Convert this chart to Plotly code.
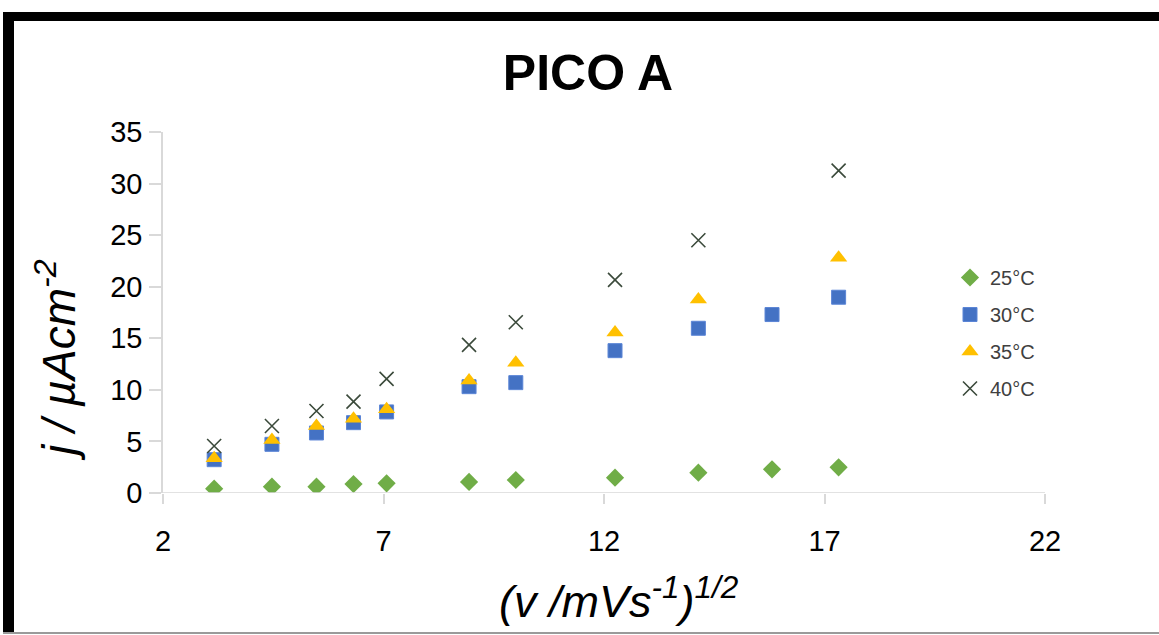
import plotly.graph_objects as go

# ---- data ----
x_all = [3.16, 4.47, 5.48, 6.32, 7.07, 8.94, 10.0, 12.25, 14.14, 15.81, 17.32]
x_no250 = [3.16, 4.47, 5.48, 6.32, 7.07, 8.94, 10.0, 12.25, 14.14, 17.32]

y25 = [0.42, 0.61, 0.61, 0.87, 0.94, 1.07, 1.26, 1.49, 1.97, 2.30, 2.49]
y30 = [3.23, 4.72, 5.82, 6.82, 7.86, 10.31, 10.70, 13.80, 15.97, 17.30, 18.98]
y35 = [3.36, 5.14, 6.50, 7.21, 8.12, 10.90, 12.64, 15.55, 18.75, 22.82]
y40 = [4.56, 6.50, 7.95, 8.86, 11.06, 14.36, 16.56, 20.66, 24.51, 31.26]

series_names = ["25°C", "30°C", "35°C", "40°C"]
x_ticks = [2, 7, 12, 17, 22]
y_ticks = [0, 5, 10, 15, 20, 25, 30, 35]

W, H = 1159, 635
L, R, T, B = 163, 1045, 132, 493  # plot area in px


def px_x(px):
    return (px - L) / (R - L)


def px_y(py):
    return (B - py) / (B - T)


fig = go.Figure()
fig.add_trace(go.Scatter(x=x_all, y=y25, mode="markers", name=series_names[0], legendgroup="a",
                         marker=dict(symbol="diamond", size=14, color="#70ad47")))
fig.add_trace(go.Scatter(x=x_all, y=y30, mode="markers", name=series_names[1], legendgroup="b",
                         marker=dict(symbol="square", size=14, color="#4472c4",
                                     line=dict(color="#5b85d6", width=1))))
fig.add_trace(go.Scatter(x=x_no250, y=y35, mode="markers", name=series_names[2], legendgroup="c",
                         marker=dict(symbol="triangle-up", size=15, color="#ffc000")))
fig.add_trace(go.Scatter(x=x_no250, y=y40, mode="markers", name=series_names[3], legendgroup="d",
                         marker=dict(symbol="x-thin", size=14, color="#3b4a3b",
                                     line=dict(color="#3b4a3b", width=1.6))))

axis_font = dict(family="Liberation Sans, Arial, sans-serif", size=29, color="#000000")

fig.update_xaxes(range=[2, 22], tickvals=x_ticks, ticktext=[str(v) for v in x_ticks],
                 showgrid=False, zeroline=False, showline=False,
                 ticks="outside", ticklen=10, tickcolor="#d9d9d9", tickwidth=1.5,
                 tickfont=axis_font, ticklabelstandoff=12)
fig.update_yaxes(range=[0, 35], tickvals=y_ticks, ticktext=[str(v) for v in y_ticks],
                 showgrid=False, zeroline=False, showline=True, linecolor="#d9d9d9", linewidth=1.5,
                 ticks="outside", ticklen=12, tickcolor="#d9d9d9", tickwidth=1.5,
                 tickfont=axis_font, ticklabelstandoff=1)

shapes = [
    # x axis line at y=0 (horizontal)
    dict(type="line", xref="paper", yref="y", x0=0, x1=1, y0=0, y1=0,
         line=dict(color="#d9d9d9", width=1.5)),
    # outer black frame (top band & left band)
    dict(type="rect", xref="paper", yref="paper", x0=px_x(3), x1=px_x(1160), y0=px_y(12), y1=px_y(21),
         fillcolor="#000000", line=dict(width=0), layer="above"),
    dict(type="rect", xref="paper", yref="paper", x0=px_x(3), x1=px_x(14), y0=px_y(12), y1=px_y(633),
         fillcolor="#000000", line=dict(width=0), layer="above"),
    dict(type="line", xref="paper", yref="paper", x0=px_x(3), x1=px_x(1160), y0=px_y(633), y1=px_y(633),
         line=dict(color="#9a9a9a", width=2)),
]

annotations = [
    dict(text="<i>(v /mVs<sup>-1</sup>)<sup>1/2</sup></i>", xref="paper", yref="paper",
         x=px_x(619), y=px_y(598), xanchor="center", yanchor="middle", showarrow=False,
         font=dict(family="Liberation Sans, Arial, sans-serif", size=45, color="#000000")),
    dict(text="<i>j / µAcm<sup>-2</sup></i>", xref="paper", yref="paper",
         x=px_x(56), y=px_y(360), xanchor="center", yanchor="middle", showarrow=False, textangle=-90,
         font=dict(family="Liberation Sans, Arial, sans-serif", size=46, color="#000000")),
]

fig.update_layout(
    width=W, height=H,
    margin=dict(l=L, r=W - R, t=T, b=H - B, pad=0),
    paper_bgcolor="#ffffff", plot_bgcolor="#ffffff",
    title=dict(text="<b>PICO A</b>", xref="container", yref="container",
               x=588 / W, y=1 - 72 / H, xanchor="center", yanchor="middle",
               font=dict(family="Liberation Sans, Arial, sans-serif", size=50, color="#000000")),
    showlegend=True,
    legend=dict(x=px_x(950), y=px_y(258), xanchor="left", yanchor="top",
                font=dict(family="Liberation Sans, Arial, sans-serif", size=20, color="#404040"),
                bgcolor="rgba(0,0,0,0)", tracegroupgap=8, itemwidth=30),
    shapes=shapes,
    annotations=annotations,
)

fig.write_html("out.html", config={"displayModeBar": False},
               post_script="document.body.style.margin='0';document.body.style.overflow='hidden';")
